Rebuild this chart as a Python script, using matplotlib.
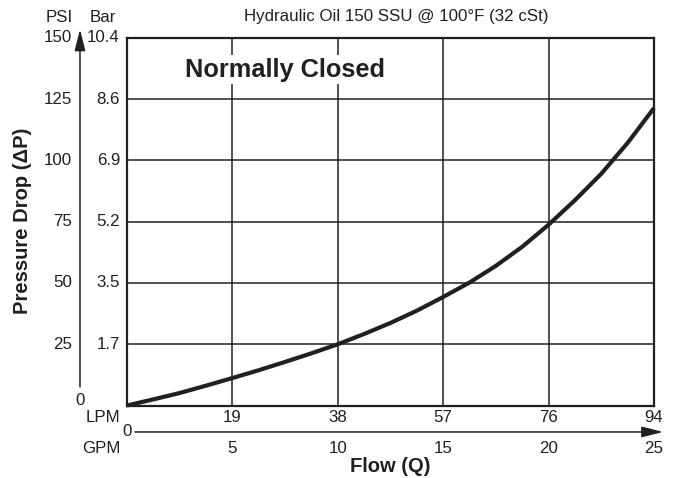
import matplotlib
matplotlib.use("Agg")
import matplotlib.pyplot as plt

plt.rcParams['font.family'] = ['Liberation Sans', 'DejaVu Sans']

# Data
flow_gpm = [0, 1.25, 2.5, 3.75, 5, 6.25, 7.5, 8.75, 10, 11.25, 12.5, 13.75, 15,
            16.25, 17.5, 18.75, 20, 21.25, 22.5, 23.75, 25]
pressure_psi = [0, 2.5, 5.1, 8.1, 11.2, 14.4, 17.8, 21.3, 25.0, 29.2, 33.7, 38.7, 44.3,
                50.2, 57.0, 64.8, 73.8, 83.8, 94.6, 107.2, 121.4]

psi_ticks = [25, 50, 75, 100, 125, 150]
bar_labels = ["1.7", "3.5", "5.2", "6.9", "8.6", "10.4"]
gpm_ticks = [5, 10, 15, 20, 25]
lpm_labels = ["19", "38", "57", "76", "94"]

title = "Hydraulic Oil 150 SSU @ 100°F (32 cSt)"
inset_title = "Normally Closed"
xlabel = "Flow (Q)"
ylabel = "Pressure Drop (ΔP)"

C = '#231f20'
fig = plt.figure(figsize=(6.78, 4.78), dpi=100)
ax = fig.add_axes([127/678, 1-405.5/478, (654-127)/678, (405.5-38)/478])
ax.set_xlim(0, 25)
ax.set_ylim(0, 150)

for g in gpm_ticks[:-1]:
    ax.axvline(g, color=C, lw=1.1, zorder=1)
for p in psi_ticks[:-1]:
    ax.axhline(p, color=C, lw=1.1, zorder=1)
for s in ax.spines.values():
    s.set_linewidth(1.6)
    s.set_color(C)

ax.plot(flow_gpm, pressure_psi, color=C, lw=3.0, solid_capstyle='butt',
        solid_joinstyle='round', zorder=3, clip_on=False)

ax.set_xticks([])
ax.set_yticks([])

fs = 12.2
ytr = ax.get_yaxis_transform()
for p, b in zip(psi_ticks, bar_labels):
    ax.text(-0.0133, p, b, transform=ytr, ha='right', va='center', fontsize=fs, color=C)
    ax.text(-0.1044, p, str(p), transform=ytr, ha='right', va='center', fontsize=fs, color=C)
ax.text(-0.0892, 2.2, "0", transform=ytr, ha='center', va='center', fontsize=fs, color=C)
fig.text(59/678, 1-17/478, "PSI", ha='center', va='center', fontsize=fs, color=C)
fig.text(103/678, 1-17/478, "Bar", ha='center', va='center', fontsize=fs, color=C)
fig.text(396/678, 1-17/478, title, ha='center', va='center', fontsize=fs, color=C)

# Y arrow
ax.annotate('', xy=(-0.0892, 153.5), xytext=(-0.0892, 7.6), xycoords=ytr, textcoords=ytr,
            arrowprops=dict(arrowstyle='-|>,head_length=1.3,head_width=0.33', mutation_scale=10,
                            color=C, lw=1.1, shrinkA=0, shrinkB=0), annotation_clip=False)

# X arrow
ax.annotate('', xy=(25.43, -10.8), xytext=(0.38, -10.8),
            arrowprops=dict(arrowstyle='-|>,head_length=1.3,head_width=0.33', mutation_scale=10,
                            color=C, lw=1.1, shrinkA=0, shrinkB=0), annotation_clip=False)
ax.text(0, -10.8, "0", ha='center', va='center', fontsize=fs, color=C, clip_on=False)

for g, l in zip(gpm_ticks, lpm_labels):
    ax.text(g, -5.1, l, ha='center', va='center', fontsize=fs, color=C, clip_on=False)
    ax.text(g, -17.4, str(g), ha='center', va='center', fontsize=fs, color=C, clip_on=False)
ax.text(-0.33, -5.1, "LPM", ha='right', va='center', fontsize=fs, color=C, clip_on=False)
ax.text(-0.33, -17.4, "GPM", ha='right', va='center', fontsize=fs, color=C, clip_on=False)

ax.text(12.48, -24.7, xlabel, ha='center', va='center', fontsize=14.5, fontweight='bold', color=C, clip_on=False)
fig.text(23/678, 1-221/478, ylabel, ha='center', va='center', rotation=90, fontsize=14.5,
         fontweight='bold', color=C)

ax.text(7.5, 137.1, inset_title, ha='center', va='center', fontsize=18.3, fontweight='bold', color=C,
        bbox=dict(facecolor='white', edgecolor='none', pad=2), zorder=4)

fig.savefig("out.png", dpi=100)
